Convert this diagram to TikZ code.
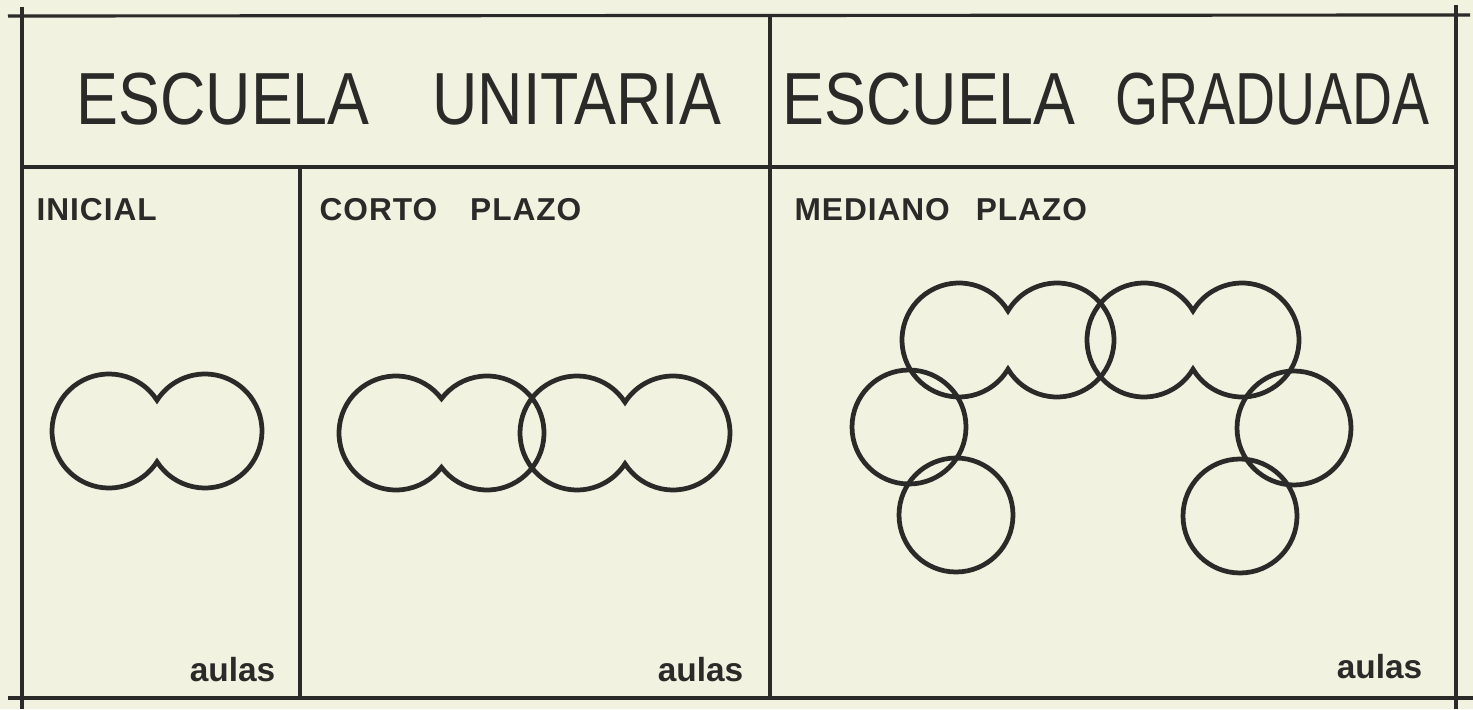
\documentclass[tikz,border=0pt]{standalone}
\usepackage{fontspec}
\usepackage{graphicx}
\setmainfont{Liberation Sans}
\usetikzlibrary{calc}

\definecolor{papel}{RGB}{242,242,225}
\definecolor{tinta}{RGB}{42,42,40}

\newcommand{\dosaulas}[2]{%
  \pgfmathsetmacro{\angcorte}{acos(#2/114)}
  \draw[aula] (#1) ++(\angcorte:57)
    arc[start angle=\angcorte, end angle=360-\angcorte, radius=57]
    arc[start angle=180+\angcorte, end angle=540-\angcorte, radius=57] -- cycle;
}

\begin{document}
\begin{tikzpicture}[ x = 0.01cm
                     , y = 0.01cm
                     , marco/.style = { draw = tinta, line width = 0.9pt }
                     , aula/.style = { draw = tinta, line width = 1.35pt }
                     , titulo/.style = { anchor = base west
                                       , inner sep = 0
                                       , text = tinta
                                       , font = \fontsize{21}{25}\selectfont }
                     , etapa/.style = { anchor = base west
                                      , inner sep = 0
                                      , text = tinta
                                      , font = \fontsize{9}{11}\selectfont\bfseries\addfontfeature{LetterSpace=3} }
                     , nota/.style = { anchor = base east
                                     , inner sep = 0
                                     , text = tinta
                                     , font = \fontsize{9.5}{11}\selectfont\bfseries }
                     ]

  \fill[papel] (0,0) rectangle (1473,709);
  \useasboundingbox (0,0) rectangle (1473,709);

  \coordinate (sup-izq) at (8,693);
  \coordinate (sup-der) at (1470,694);
  \coordinate (inf-izq) at (8,11);
  \coordinate (inf-der) at (1473,11);
  \coordinate (izq-arr) at (22,702);
  \coordinate (izq-abj) at (22,0);
  \coordinate (der-arr) at (1456,704);
  \coordinate (der-abj) at (1456,0);
  \coordinate (med-izq) at (22,542);
  \coordinate (med-der) at (1456,542);
  \coordinate (div-arr) at (770,693);
  \coordinate (div-abj) at (770,11);
  \coordinate (sub-arr) at (300,542);
  \coordinate (sub-abj) at (300,11);

  \draw[marco] (sup-izq) -- (sup-der);
  \draw[marco] (inf-izq) -- (inf-der);
  \draw[marco] (izq-arr) -- (izq-abj);
  \draw[marco] (der-arr) -- (der-abj);
  \draw[marco] (med-izq) -- (med-der);
  \draw[marco] (div-arr) -- (div-abj);
  \draw[marco] (sub-arr) -- (sub-abj);

  \node (unitaria) [titulo] at (76,584)
    {\scalebox{0.85}[1]{ESCUELA\hspace{7.4mm}UNITARIA}};
  \node (graduada) [titulo] at (782,584)
    {\scalebox{0.85}[1]{ESCUELA}\hspace{4mm}\scalebox{0.75}[1]{GRADUADA}};

  \node (inicial) [etapa] at (36,488) {INICIAL};
  \node (corto) [etapa] at (319,488) {CORTO\hspace{3.3mm}PLAZO};
  \node (mediano) [etapa] at (794,488) {MEDIANO\hspace{2.6mm}PLAZO};

  \node (aulas-ini) [nota] at (276,28) {aulas};
  \node (aulas-corto) [nota] at (744,28) {aulas};
  \node (aulas-med) [nota] at (1423,31) {aulas};

  \coordinate (i1) at (109,278);
  \coordinate (c1) at (396,276);
  \coordinate (c3) at (577,276);
  \coordinate (m1) at (959,369);
  \coordinate (m3) at (1144,369);
  \coordinate (m5) at (909,282);
  \coordinate (m6) at (956,194);
  \coordinate (m7) at (1294,281);
  \coordinate (m8) at (1240,193);

  \dosaulas{i1}{96}
  \dosaulas{c1}{91}
  \dosaulas{c3}{96}
  \dosaulas{m1}{98}
  \dosaulas{m3}{98}

  \foreach \c in {m5, m6, m7, m8}
    \draw[aula] (\c) circle[radius=57];

\end{tikzpicture}
\end{document}
